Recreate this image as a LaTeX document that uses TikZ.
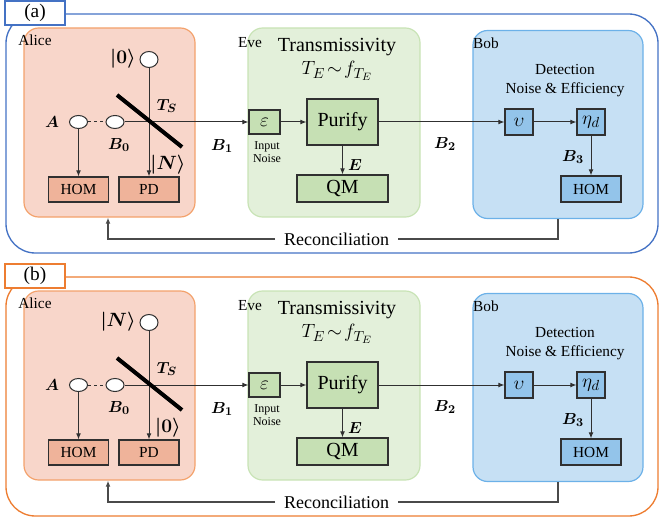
\documentclass[tikz,border=0pt]{standalone}
\usepackage{amsmath}
\usepackage{fontspec}
\setmainfont{Liberation Serif}
\usetikzlibrary{arrows.meta,shapes.geometric}

\definecolor{panelA}{HTML}{4472C4}
\definecolor{panelB}{HTML}{ED7D31}
\definecolor{aliceFill}{HTML}{F8D6CA}
\definecolor{aliceEdge}{HTML}{F3A16B}
\definecolor{aliceBox}{HTML}{EFB39A}
\definecolor{eveFill}{HTML}{E3F0DA}
\definecolor{eveEdge}{HTML}{C8E3B5}
\definecolor{eveBox}{HTML}{C6E0B4}
\definecolor{bobFill}{HTML}{C6E0F4}
\definecolor{bobEdge}{HTML}{6CB1E8}
\definecolor{bobBox}{HTML}{93C4EA}
\definecolor{wire}{HTML}{303030}
\definecolor{reconwire}{HTML}{4A4A4A}

\tikzset{
  sz/.style 2 args={minimum width=#1*0.75pt, minimum height=#2*0.75pt},
  frame/.style={draw, line width=1pt, rounded corners=22pt, inner sep=0pt},
  tagbox/.style={draw, fill=white, line width=0.9pt, inner sep=0pt,
    font=\fontsize{14.5}{16}\selectfont},
  region/.style={draw, line width=0.9pt, rounded corners=11pt, inner sep=0pt},
  dev/.style={draw=wire, line width=0.9pt, inner sep=0pt},
  port/.style={ellipse, draw=wire, fill=white, line width=0.75pt, inner sep=0pt},
  party/.style={inner sep=0pt, font=\fontsize{11.5}{13}\selectfont},
  mlabel/.style={inner sep=0pt, font=\fontsize{12.5}{13}\selectfont},
  ketlabel/.style={inner sep=0pt, font=\fontsize{14}{15}\selectfont},
  symtext/.style={font=\fontsize{15}{16}\selectfont},
  wire/.style={draw=wire, line width=0.75pt},
  arr/.style={wire, -{Latex[length=4.5pt,width=3.6pt]}},
  recon/.style={draw=reconwire, line width=1.1pt},
  devtext/.style={font=\fontsize{11.5}{13}\selectfont},
  bigtext/.style={font=\fontsize{15}{17}\selectfont},
}

% One complete protocol panel:
% #1 vertical offset, #2 name prefix, #3 tag text, #4 frame colour,
% #5 upper source state, #6 lower source state
\newcommand\qkdpanel[6]{%
\begin{scope}[shift={(0,#1)}]
  % outer frame and tag
  \node[frame, draw=#4, sz={652}{239}] (#2frame) at (332,133.5) {};
  \node[tagbox, draw=#4, sz={60}{24}] (#2tag) at (35,13) {#3};

  % the three parties
  \node[region, draw=aliceEdge, fill=aliceFill, sz={171}{189}] (#2alice) at (109.5,122.5) {};
  \node[region, draw=eveEdge, fill=eveFill, sz={172}{189}] (#2eve) at (334,122.5) {};
  \node[region, draw=bobEdge, fill=bobFill, sz={170}{188}] (#2bob) at (558,124.5) {};
  \node[party] (#2alicename) at (35,40) {Alice};
  \node[party] (#2evename) at (250,43) {Eve};
  \node[party] (#2bobname) at (486,43) {Bob};

  % Alice: source, beam splitter and detectors
  \node[port, sz={18}{16}] (#2src) at (149,59.5) {};
  \node[port, sz={18}{13}] (#2a) at (78.5,122) {};
  \node[port, sz={18}{13}] (#2bzero) at (115,122) {};
  \node[dev, fill=aliceBox, sz={60}{25}, devtext] (#2hom) at (78.5,189.5) {HOM};
  \node[dev, fill=aliceBox, sz={60}{25}, devtext] (#2pd) at (149,189.5) {PD};
  \coordinate (#2bsa) at (117,95);
  \coordinate (#2bsb) at (182,147);
  \node[ketlabel, anchor=east] (#2srclabel) at (136,59) {$\boldsymbol{#5}$};
  \node[ketlabel] (#2outlabel) at (168,165) {$\boldsymbol{#6}$};
  \node[mlabel] (#2alabel) at (52,122) {$\boldsymbol{A}$};
  \node[mlabel] (#2bzlabel) at (119,145) {$\boldsymbol{B_0}$};
  \node[mlabel] (#2tslabel) at (167,106) {$\boldsymbol{T_S}$};
  \node[mlabel] (#2bonelabel) at (222,146) {$\boldsymbol{B_1}$};

  % Eve: input noise, purification and quantum memory
  \node[bigtext] (#2trans) at (337,47) {Transmissivity};
  \node[font=\fontsize{15.5}{17}\selectfont] (#2dist) at (337,71) {$T_E\!\sim\! f_{T_E}$};
  \node[dev, fill=eveBox, sz={31}{24}, symtext] (#2eps) at (264.5,122) {$\varepsilon$};
  \node[inner sep=0pt, align=center, font=\fontsize{9}{9.8}\selectfont] (#2inoise) at (267,152) {Input\\Noise};
  \node[dev, fill=eveBox, sz={71}{46}, bigtext] (#2pur) at (342.5,122) {Purify};
  \node[dev, fill=eveBox, sz={91}{27}, bigtext] (#2qm) at (342.5,188.5) {QM};
  \node[mlabel] (#2elabel) at (355,165) {$\boldsymbol{E}$};
  \node[mlabel] (#2btwolabel) at (445,144) {$\boldsymbol{B_2}$};

  % Bob: detection noise, efficiency and measurement
  \node[inner sep=0pt, align=center, font=\fontsize{11.5}{14.25}\selectfont] (#2det) at (565,80.5) {Detection\\Noise \& Efficiency};
  \node[dev, fill=bobBox, sz={28}{26}, symtext] (#2ups) at (519,122) {$\upsilon$};
  \node[dev, fill=bobBox, sz={28}{26}, symtext] (#2eta) at (591,122) {$\eta_d$};
  \node[dev, fill=bobBox, sz={60}{26}, devtext] (#2bhom) at (591,189) {HOM};
  \node[mlabel] (#2bthreelabel) at (573,157) {$\boldsymbol{B_3}$};

  % optical paths
  \draw[wire, dash pattern=on 2.5pt off 2pt] (#2a) -- (#2bzero);
  \draw[arr] (#2a.south) -- (#2a.south |- #2hom.north);
  \draw[arr] (#2src.south) -- (#2src.south |- #2pd.north);
  \draw[arr] (#2bzero.east) -- (#2eps.west);
  \draw[line width=3pt, black] (#2bsa) -- (#2bsb);
  \draw[arr] (#2eps.east) -- (#2pur.west);
  \draw[arr] (#2pur.south) -- (#2qm.north);
  \draw[arr] (#2pur.east) -- (#2ups.west);
  \draw[arr] (#2ups.east) -- (#2eta.west);
  \draw[arr] (#2eta.south) -- (#2bhom.north);

  % classical reconciliation channel
  \node[inner xsep=6.4pt, inner ysep=0pt, font=\fontsize{13.5}{15}\selectfont] (#2rec) at (336.5,239) {Reconciliation};
  \coordinate (#2rc) at (108,239);
  \draw[recon] (#2bob.south) |- (#2rec.east);
  \draw[recon, -{Latex[length=4.5pt,width=3.6pt]}] (#2rec.west) -- (#2rc) -- (#2rc |- #2alice.south);
\end{scope}}

\begin{document}
\begin{tikzpicture}[x=0.75pt, y=-0.75pt]
  \useasboundingbox (0,0) rectangle (659,520);
  \qkdpanel{0}{a}{(a)}{panelA}{|0\rangle}{|N\rangle}
  \qkdpanel{263}{b}{(b)}{panelB}{|N\rangle}{|0\rangle}
\end{tikzpicture}
\end{document}
